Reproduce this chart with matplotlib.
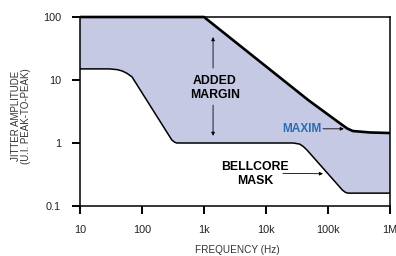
import numpy as np
import matplotlib
matplotlib.use("Agg")
import matplotlib.pyplot as plt

# jitter tolerance: Maxim part vs Bellcore mask
maxim_freq = [10, 1000, 48000, 170000, 204000, 251000, 475000, 1000000]
maxim_ui = [100, 100, 4.8, 1.93, 1.70, 1.55, 1.47, 1.44]

mask_freq = [10, 30, 40, 48, 57, 69, 302, 335, 364, 27500, 35000, 40000, 46000,
             170000, 190000, 210000, 1000000]
mask_ui = [15, 15, 14.6, 13.9, 12.8, 11.2, 1.12, 1.03, 1.0, 1.0, 0.96, 0.88, 0.77,
           0.18, 0.165, 0.16, 0.16]

x_ticks = [10, 100, 1000, 10000, 100000, 1000000]
x_labels = ["10", "100", "1k", "10k", "100k", "1M"]
y_ticks = [0.1, 1, 10, 100]
y_labels = ["0.1", "1", "10", "100"]

fill_col = "#c5c9e4"
blue = "#2a6db5"
narrow = ["Liberation Sans Narrow", "Liberation Sans", "DejaVu Sans"]

plt.rcParams['font.family'] = ["Liberation Sans", "DejaVu Sans"]

fig = plt.figure(figsize=(3.96, 2.56), dpi=100)
ax = fig.add_axes([80 / 396, 1 - 206 / 256, 310 / 396, 189 / 256])
ax.set_xscale("log")
ax.set_yscale("log")
ax.set_xlim(10, 1e6)
ax.set_ylim(0.1, 100)

# shaded margin between maxim curve and mask
poly_x = list(maxim_freq) + list(mask_freq[::-1])
poly_y = list(maxim_ui) + list(mask_ui[::-1])
ax.fill(poly_x, poly_y, color=fill_col, lw=0, zorder=1)

ax.plot(mask_freq, mask_ui, color="black", lw=1.1, zorder=3)
ax.plot(maxim_freq, maxim_ui, color="black", lw=1.9, zorder=4, clip_on=False,
        solid_capstyle="butt")

ax.set_xticks(x_ticks)
ax.set_xticklabels(x_labels)
ax.set_yticks(y_ticks)
ax.set_yticklabels(y_labels)
ax.minorticks_off()
ax.tick_params(direction="out", length=6, width=1.4, pad=7.5, labelsize=7.8,
               labelcolor="#222222")
for s in ax.spines.values():
    s.set_linewidth(1.1)

# annotations
arrow = dict(arrowstyle="-|>", lw=0.6, color="black", mutation_scale=5,
             shrinkA=0, shrinkB=0)
ax.text(1500, 7.5, "ADDED\nMARGIN", ha="center", va="center", fontsize=8.8,
        fontweight="bold", family=narrow, linespacing=1.2, zorder=5)
ax.annotate("", xy=(1400, 48), xytext=(1400, 15.5), arrowprops=arrow)
ax.annotate("", xy=(1400, 1.3), xytext=(1400, 4), arrowprops=arrow)

ax.text(38000, 1.67, "MAXIM", ha="center", va="center", fontsize=8.6,
        fontweight="bold", family=narrow, color=blue, zorder=5)
ax.annotate("", xy=(180000, 1.68), xytext=(83000, 1.68), arrowprops=arrow)

ax.text(6600, 0.32, "BELLCORE\nMASK", ha="center", va="center", fontsize=8.8,
        fontweight="bold", family=narrow, linespacing=1.2, zorder=5)
ax.annotate("", xy=(83000, 0.325), xytext=(18700, 0.33), arrowprops=arrow)

fig.text(21 / 396, 1 - 116 / 256, "JITTER AMPLITUDE\n(U.I. PEAK-TO-PEAK)",
         rotation=90, ha="center", va="center", fontsize=7, color="#333333",
         linespacing=1.1)
fig.text(237 / 396, 1 - 250 / 256, "FREQUENCY (Hz)", ha="center", va="center",
         fontsize=7.2, color="#333333")

fig.savefig("out.png", dpi=100)
